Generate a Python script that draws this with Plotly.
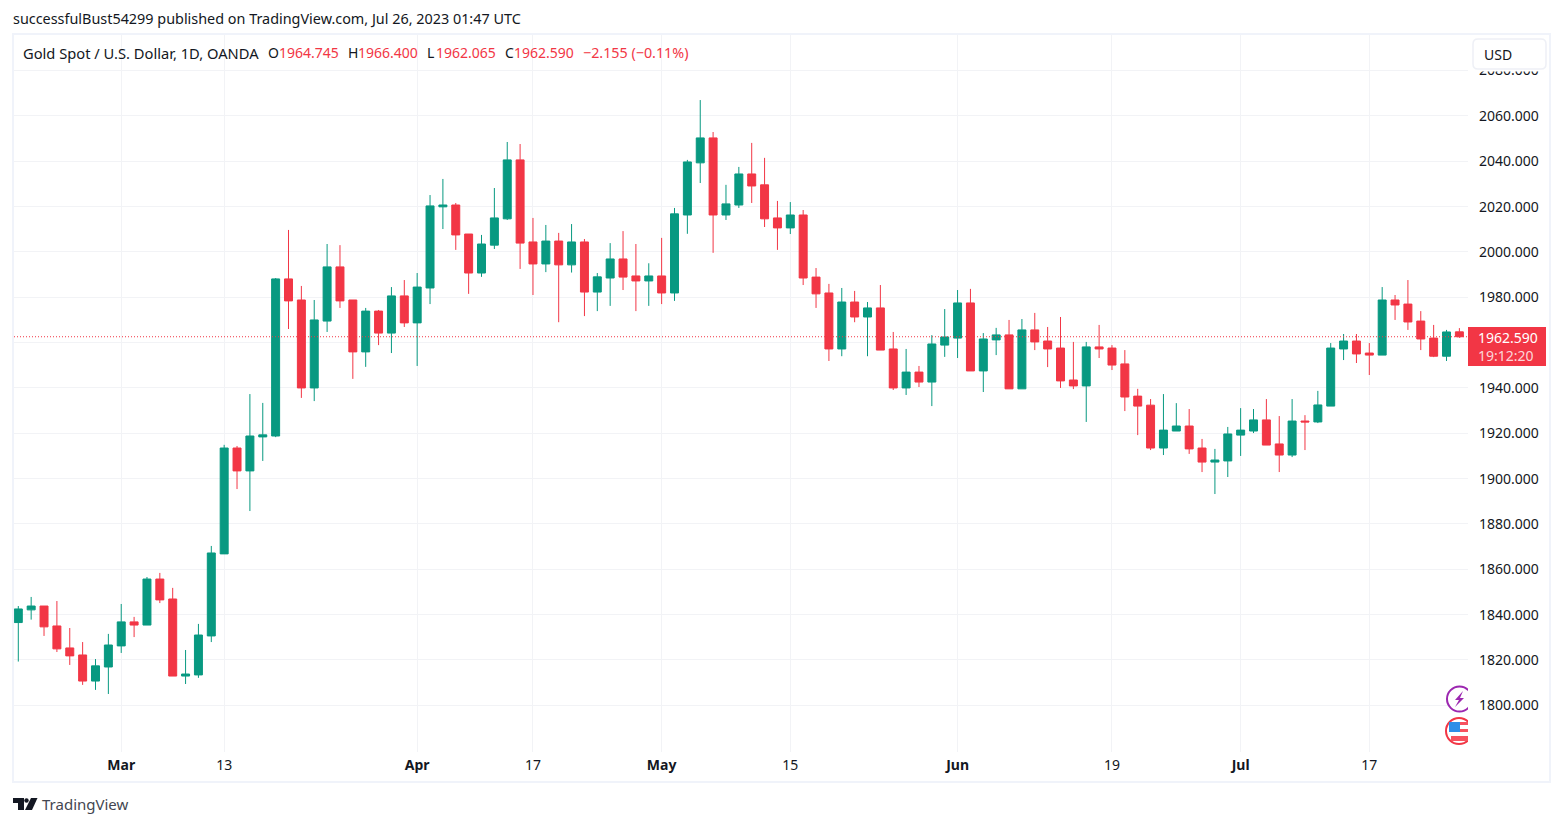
import plotly.graph_objects as go
import pandas as pd

# daily candles. Feb 17 to Jul 26 2023, market shut on Apr 7
dates = [d.strftime("%Y-%m-%d") for d in pd.bdate_range("2023-02-17", "2023-07-26") if d.strftime("%m-%d") != "04-07"]

opens = [1836.5, 1842.1, 1843.8, 1835.0, 1825.3, 1822.2, 1810.7, 1816.9, 1826.2, 1836.8,
         1835.4, 1855.7, 1846.9, 1812.9, 1813.4, 1830.6, 1866.8, 1913.5, 1903.4, 1918.4,
         1918.8, 1988.1, 1978.8, 1940.0, 1969.5, 1993.4, 1978.8, 1955.9, 1973.9, 1964.2,
         1980.6, 1968.7, 1984.1, 2019.9, 2020.7, 2007.9, 1990.7, 2003.0, 2014.6, 2040.6,
         2004.4, 1994.7, 2004.8, 1994.3, 2004.4, 1982.3, 1988.5, 1996.9, 1989.4, 1987.2,
         1989.4, 1981.9, 2016.3, 2039.3, 2050.3, 2016.3, 2020.7, 2034.4, 2029.6, 2015.0,
         2010.6, 2016.3, 1988.9, 1981.9, 1957.2, 1977.9, 1971.3, 1975.3, 1957.2, 1940.0,
         1947.0, 1942.6, 1958.9, 1962.0, 1977.5, 1947.5, 1961.2, 1963.4, 1939.6, 1965.6,
         1960.7, 1957.6, 1943.5, 1940.9, 1958.1, 1957.6, 1950.6, 1936.4, 1932.4, 1913.5,
         1921.0, 1923.2, 1913.5, 1907.3, 1907.8, 1919.2, 1921.0, 1925.9, 1915.3, 1910.4,
         1925.4, 1925.0, 1932.0, 1957.2, 1960.7, 1955.4, 1954.5, 1978.8, 1977.0, 1969.5,
         1962.0, 1954.0, 1964.745]
highs = [1843.8, 1847.8, 1843.8, 1846.0, 1834.1, 1827.9, 1820.4, 1831.5, 1844.7, 1839.0,
         1856.6, 1858.4, 1851.8, 1824.4, 1835.9, 1870.3, 1914.9, 1914.4, 1937.3, 1933.4,
         1988.5, 2009.7, 1985.0, 1978.8, 2003.5, 2003.0, 1978.8, 1975.3, 1974.4, 1984.5,
         1987.6, 1990.7, 2025.1, 2032.2, 2021.6, 2007.9, 2007.5, 2028.2, 2048.5, 2047.6,
         2015.0, 2011.9, 2008.4, 2012.3, 2005.7, 1990.7, 2003.9, 2009.2, 2003.5, 1995.0,
         2006.2, 2019.4, 2040.6, 2067.0, 2052.9, 2029.6, 2037.5, 2048.1, 2041.5, 2022.5,
         2022.0, 2018.5, 1992.9, 1985.9, 1984.1, 1982.8, 1977.9, 1985.4, 1964.7, 1957.2,
         1949.7, 1963.3, 1974.8, 1983.2, 1983.7, 1964.2, 1966.5, 1970.0, 1970.4, 1973.1,
         1966.9, 1971.3, 1960.3, 1960.3, 1967.8, 1958.9, 1956.7, 1939.6, 1935.1, 1937.3,
         1933.3, 1930.7, 1917.5, 1913.1, 1922.8, 1931.1, 1930.7, 1935.1, 1927.6, 1935.1,
         1928.0, 1938.7, 1959.8, 1963.8, 1963.8, 1959.8, 1984.5, 1981.0, 1987.6, 1973.9,
         1967.8, 1965.6, 1966.4]
lows = [1819.3, 1837.8, 1830.6, 1823.5, 1817.8, 1809.0, 1806.8, 1805.0, 1823.1, 1830.1,
        1835.4, 1845.1, 1812.9, 1809.4, 1812.1, 1827.9, 1866.8, 1895.4, 1885.7, 1907.8,
        1918.3, 1966.0, 1935.6, 1934.2, 1964.7, 1975.3, 1944.0, 1949.3, 1958.9, 1955.4,
        1966.9, 1949.7, 1977.0, 2010.1, 2000.9, 1981.5, 1989.0, 2001.3, 2014.1, 1992.5,
        1981.0, 1991.1, 1969.0, 1990.9, 1971.7, 1973.9, 1976.2, 1983.2, 1973.9, 1976.2,
        1977.0, 1978.4, 2008.0, 2030.4, 1999.6, 2014.1, 2019.4, 2021.6, 2011.0, 2000.9,
        2007.9, 1985.4, 1975.3, 1951.9, 1954.0, 1969.0, 1954.0, 1956.7, 1939.1, 1936.9,
        1940.4, 1932.0, 1953.7, 1953.2, 1947.5, 1938.2, 1954.5, 1939.6, 1939.6, 1956.7,
        1949.2, 1940.0, 1939.5, 1925.0, 1953.2, 1947.9, 1929.8, 1919.2, 1912.6, 1910.4,
        1921.0, 1910.9, 1902.9, 1893.2, 1900.7, 1910.0, 1920.1, 1914.8, 1902.9, 1909.5,
        1912.6, 1924.5, 1932.0, 1952.3, 1951.0, 1945.7, 1954.5, 1970.0, 1965.6, 1956.7,
        1953.6, 1951.9, 1962.065]
closes = [1842.5, 1843.8, 1834.6, 1824.9, 1821.8, 1810.7, 1817.4, 1826.6, 1836.8, 1835.4,
          1855.7, 1846.5, 1812.9, 1813.8, 1831.0, 1867.2, 1913.5, 1903.4, 1918.8, 1919.3,
          1988.1, 1978.4, 1940.0, 1970.0, 1993.4, 1978.4, 1955.9, 1973.9, 1964.2, 1980.6,
          1968.7, 1984.5, 2020.3, 2020.7, 2007.5, 1990.7, 2003.5, 2015.0, 2040.6, 2003.9,
          1994.7, 2004.8, 1994.3, 2004.4, 1982.3, 1989.0, 1996.9, 1988.9, 1987.2, 1989.4,
          1981.9, 2016.8, 2039.7, 2050.3, 2016.3, 2021.2, 2034.4, 2029.1, 2014.6, 2010.6,
          2016.3, 1988.5, 1981.5, 1957.2, 1977.9, 1971.3, 1975.3, 1956.7, 1940.0, 1947.0,
          1942.6, 1959.4, 1962.5, 1977.5, 1947.5, 1961.6, 1963.4, 1939.6, 1965.6, 1960.3,
          1957.2, 1943.1, 1940.9, 1958.1, 1957.2, 1950.1, 1936.0, 1932.0, 1913.5, 1921.4,
          1923.2, 1913.1, 1907.3, 1908.2, 1919.7, 1921.4, 1925.9, 1914.8, 1910.4, 1925.4,
          1925.0, 1932.5, 1957.6, 1960.7, 1955.0, 1954.5, 1978.8, 1976.6, 1969.1, 1961.6,
          1954.0, 1964.7, 1962.59]

tick_dates = ["2023-03-01", "2023-03-13", "2023-04-03", "2023-04-17", "2023-05-01",
              "2023-05-15", "2023-06-01", "2023-06-19", "2023-07-03", "2023-07-17"]
tick_labels = ["<b>Mar</b>", "13", "<b>Apr</b>", "17", "<b>May</b>", "15", "<b>Jun</b>", "19", "<b>Jul</b>", "17"]
price_ticks = list(range(1800, 2100, 20))

header_title = "Gold Spot / U.S. Dollar, 1D, OANDA"
change_text = "−2.155 (−0.11%)"

RED = "#F23645"
GREEN = "#089981"
DARK = "#131722"
GRID = "#F2F3F6"
BORDER = "#F0F3FA"
FONT = "Noto Sans, sans-serif"

# plot pane in page pixels
LEFT, RIGHT, TOP, BOTTOM = 14, 1468, 35, 752

def px(x):
    return (x - LEFT) / (RIGHT - LEFT)

def py(y):
    return (BOTTOM - y) / (BOTTOM - TOP)

def rect(x0, y0, x1, y1, fill="white", line=None, width=0):
    return dict(type="rect", xref="paper", yref="paper", x0=px(x0), x1=px(x1), y0=py(y0), y1=py(y1),
                fillcolor=fill, line=dict(color=line or fill, width=width), layer="above")

def circle(cx, cy, r, fill, line, width):
    return dict(type="circle", xref="paper", yref="paper", x0=px(cx - r), x1=px(cx + r), y0=py(cy - r), y1=py(cy + r),
                fillcolor=fill, line=dict(color=line, width=width), layer="above")

def polygon(points, fill):
    path = "M " + " L ".join(f"{px(a):.5f} {py(b):.5f}" for a, b in points) + " Z"
    return dict(type="path", xref="paper", yref="paper", path=path, fillcolor=fill, line=dict(width=0), layer="above")

def label(x, y, text, color=DARK, size=14, anchor="left"):
    return dict(x=px(x), y=py(y), xref="paper", yref="paper", text=text, showarrow=False, xanchor=anchor,
                yanchor="middle", borderpad=0, align="left", font=dict(family=FONT, size=size, color=color))

candles = go.Candlestick(
    x=dates, open=opens, high=highs, low=lows, close=closes,
    increasing=dict(line=dict(color=GREEN, width=1), fillcolor=GREEN),
    decreasing=dict(line=dict(color=RED, width=1), fillcolor=RED),
    whiskerwidth=0,
)

shapes = [
    rect(13, 34, 1550, 782, fill="rgba(0,0,0,0)", line=BORDER, width=2),
    # last price line and tag
    dict(type="line", xref="paper", yref="y", x0=0, x1=1, y0=closes[-1], y1=closes[-1],
         line=dict(color=RED, width=1, dash="1px,2px"), layer="above"),
    rect(1468, 327, 1546, 366, fill=RED),
    # top of the scale is hidden by the currency button
    rect(1468, 36, 1549, 71.5),
    dict(type="path", xref="paper", yref="paper", fillcolor="white", layer="above", line=dict(color="#EEF0F6", width=1.5),
         path=f"M {px(1478)} {py(39)} L {px(1541)} {py(39)} Q {px(1546)} {py(39)} {px(1546)} {py(44)} "
              f"L {px(1546)} {py(64)} Q {px(1546)} {py(69)} {px(1541)} {py(69)} L {px(1478)} {py(69)} "
              f"Q {px(1473)} {py(69)} {px(1473)} {py(64)} L {px(1473)} {py(44)} Q {px(1473)} {py(39)} {px(1478)} {py(39)} Z"),
    # event badges at the bottom right
    circle(1459.5, 699, 12.5, "white", "#9C27B0", 2),
    polygon([(1463, 691), (1455, 700), (1459, 700), (1455, 707), (1464, 698), (1460, 698)], "#9C27B0"),
    circle(1459, 731, 13, "white", "#F23645", 2),
    rect(1452, 722, 1468, 725, fill="#F7525F"),
    rect(1449, 729, 1468, 732, fill="#F7525F"),
    rect(1451, 736, 1468, 741, fill="#F7525F"),
    rect(1449, 722, 1460, 732, fill="#2E8FE8"),
    rect(1468, 684, 1474, 747),
    # logo
    polygon([(13, 798), (24, 798), (24, 810), (18, 810), (18, 803), (13, 803)], "#131722"),
    circle(26.5, 800.5, 2.2, "#131722", "#131722", 0),
    polygon([(31, 798), (37.5, 798), (32, 810), (25, 810)], "#131722"),
]

annotations = [
    label(12, 18.5, "successfulBust54299 published on TradingView.com, Jul 26, 2023 01:47 UTC", size=14.4),
    label(22, 53, header_title, size=14.7),
    label(267, 53, "O"),
    label(278, 53, f"{opens[-1]:.3f}", RED),
    label(347, 53, "H"),
    label(357, 53, f"{highs[-1]:.3f}", RED),
    label(426, 53, "L"),
    label(435, 53, f"{lows[-1]:.3f}", RED),
    label(504, 53, "C"),
    label(513, 53, f"{closes[-1]:.3f}", RED),
    label(582, 53, change_text, RED, 14.3),
    label(1483, 54, "USD"),
    label(1477, 346, f"{closes[-1]:.3f}<br><span style='color:rgba(255,255,255,0.8)'>19:12:20</span>", "white"),
    label(41, 804, "TradingView", "#434651", 15),
]

layout = go.Layout(
    width=1563,
    height=826,
    margin=dict(l=LEFT, r=1563 - RIGHT, t=TOP, b=826 - BOTTOM, pad=0),
    paper_bgcolor="white",
    plot_bgcolor="white",
    showlegend=False,
    boxgap=0.38,
    boxgroupgap=0,
    font=dict(family=FONT, size=14, color=DARK),
    xaxis=dict(
        type="category",
        categoryorder="array",
        categoryarray=dates,
        range=[-0.334, 112.67],
        rangeslider=dict(visible=False),
        tickmode="array",
        tickvals=tick_dates,
        ticktext=tick_labels,
        showgrid=True,
        gridcolor=GRID,
        gridwidth=1,
        showline=False,
        zeroline=False,
        ticks="",
        ticklabelstandoff=3,
    ),
    yaxis=dict(
        side="right",
        range=[1779.4, 2095.7],
        tickmode="array",
        tickvals=price_ticks,
        tickformat=".3f",
        showgrid=True,
        gridcolor=GRID,
        gridwidth=1,
        showline=False,
        zeroline=False,
        ticks="",
        ticklabelstandoff=10,
    ),
    shapes=shapes,
    annotations=annotations,
)

fig = go.Figure(data=[candles], layout=layout)
fig.write_html("out.html", config=dict(displayModeBar=False), post_script="document.body.style.margin='0';")
